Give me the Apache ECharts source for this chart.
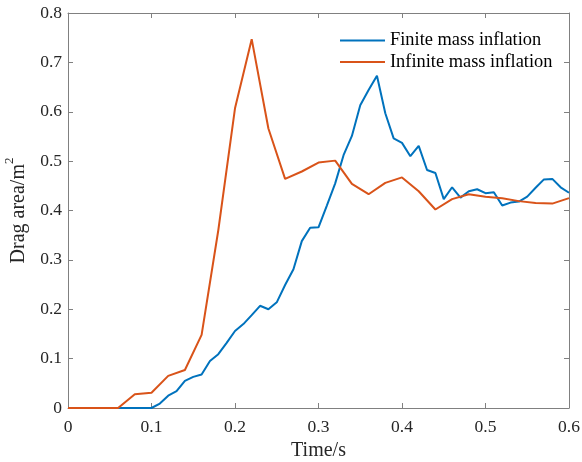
<!DOCTYPE html>
<html>
<head>
<meta charset="utf-8">
<script src="https://cdn.jsdelivr.net/npm/echarts@6/dist/echarts.min.js"></script>
<style>html,body{margin:0;padding:0;background:#fff}#c{width:582px;height:462px}</style>
</head>
<body>
<div id="c"></div>
<script>
var finiteTime = [0,0.01,0.02,0.03,0.04,0.05,0.06,0.07,0.08,0.09,0.10,0.11,0.12,0.13,0.14,0.15,0.16,0.17,0.18,0.19,0.20,0.21,0.22,0.23,0.24,0.25,0.26,0.27,0.28,0.29,0.30,0.31,0.32,0.33,0.34,0.35,0.36,0.37,0.38,0.39,0.40,0.41,0.42,0.43,0.44,0.45,0.46,0.47,0.48,0.49,0.50,0.51,0.52,0.53,0.54,0.55,0.56,0.57,0.58,0.59,0.60];
var finiteArea = [0,0,0,0,0,0,0,0,0,0,0,0.009,0.025,0.034,0.055,0.063,0.068,0.095,0.109,0.132,0.156,0.170,0.188,0.207,0.200,0.214,0.249,0.281,0.338,0.365,0.366,0.410,0.455,0.512,0.551,0.613,0.644,0.673,0.597,0.546,0.537,0.510,0.531,0.482,0.476,0.423,0.447,0.426,0.439,0.443,0.435,0.437,0.410,0.416,0.418,0.428,0.446,0.463,0.464,0.447,0.436];
var infiniteTime = [0,0.02,0.04,0.06,0.08,0.10,0.12,0.14,0.16,0.18,0.20,0.22,0.24,0.26,0.28,0.30,0.32,0.34,0.36,0.38,0.40,0.42,0.44,0.46,0.48,0.50,0.52,0.54,0.56,0.58,0.60];
var infiniteArea = [0,0,0,0,0.028,0.031,0.065,0.077,0.148,0.36,0.607,0.747,0.566,0.464,0.479,0.497,0.501,0.454,0.433,0.456,0.467,0.439,0.402,0.423,0.433,0.428,0.425,0.419,0.415,0.414,0.425];
var xTickLabels = ['0','0.1','0.2','0.3','0.4','0.5','0.6'];
var yTickLabels = ['0','0.1','0.2','0.3','0.4','0.5','0.6','0.7','0.8'];
var seriesNames = ['Finite mass inflation','Infinite mass inflation'];

function pairs(xs, ys){ return xs.map(function(x,i){ return [x, ys[i]]; }); }

var FONT = '"Liberation Serif","Times New Roman",serif';
var AX = '#808080';
var TXT = '#262626';

var chart = echarts.init(document.getElementById('c'), null, {renderer:'canvas'});
var axisCommon = {
  axisLine:{show:true, onZero:false, lineStyle:{color:AX, width:1}},
  axisTick:{show:true, inside:true, length:5, lineStyle:{color:AX, width:1}},
  splitLine:{show:false}
};
chart.setOption({
  animation:false,
  backgroundColor:'#fff',
  grid:{left:68, right:13, top:13, bottom:54, containLabel:false, outerBoundsMode:'none'},
  legend:{
    data:seriesNames, left:340, top:31.5, orient:'vertical', padding:0,
    itemWidth:45, itemHeight:18, itemGap:3.4,
    icon:'path://M0,0L45,0L45,2L0,2Z',
    textStyle:{fontFamily:FONT, fontSize:18.4, color:'#000'}
  },
  xAxis:[
    Object.assign({type:'value', min:0, max:0.6, interval:0.1, position:'bottom',
      name:'Time/s', nameLocation:'middle', nameGap:33,
      nameTextStyle:{fontFamily:FONT, fontSize:20, color:TXT},
      axisLabel:{margin:10, fontFamily:FONT, fontSize:17.5, color:TXT,
        formatter:function(v){ return xTickLabels[Math.round(v*10)]; }}
    }, axisCommon),
    Object.assign({type:'value', min:0, max:0.6, interval:0.1, position:'top', axisLabel:{show:false}}, axisCommon)
  ],
  yAxis:[
    Object.assign({type:'value', min:0, max:0.8, interval:0.1, position:'left',
      name:'{a|Drag area/m}{b|2}', nameLocation:'middle', nameGap:32,
      nameTextStyle:{fontFamily:FONT, fontSize:20, color:TXT,
        rich:{a:{fontFamily:FONT, fontSize:20, color:TXT, lineHeight:26, verticalAlign:'bottom'},
              b:{fontFamily:FONT, fontSize:13, color:TXT, lineHeight:26, verticalAlign:'top'}}},
      axisLabel:{margin:6, fontFamily:FONT, fontSize:17.5, color:TXT,
        formatter:function(v){ return yTickLabels[Math.round(v*10)]; }}
    }, axisCommon),
    Object.assign({type:'value', min:0, max:0.8, interval:0.1, position:'right', axisLabel:{show:false}}, axisCommon)
  ],
  series:[
    {name:seriesNames[0], type:'line', data:pairs(finiteTime, finiteArea), symbol:'none', showSymbol:false,
      lineStyle:{color:'#0072BD', width:2}, itemStyle:{color:'#0072BD'}},
    {name:seriesNames[1], type:'line', data:pairs(infiniteTime, infiniteArea), symbol:'none', showSymbol:false,
      lineStyle:{color:'#D95319', width:2}, itemStyle:{color:'#D95319'}}
  ]
});
</script>
</body>
</html>
